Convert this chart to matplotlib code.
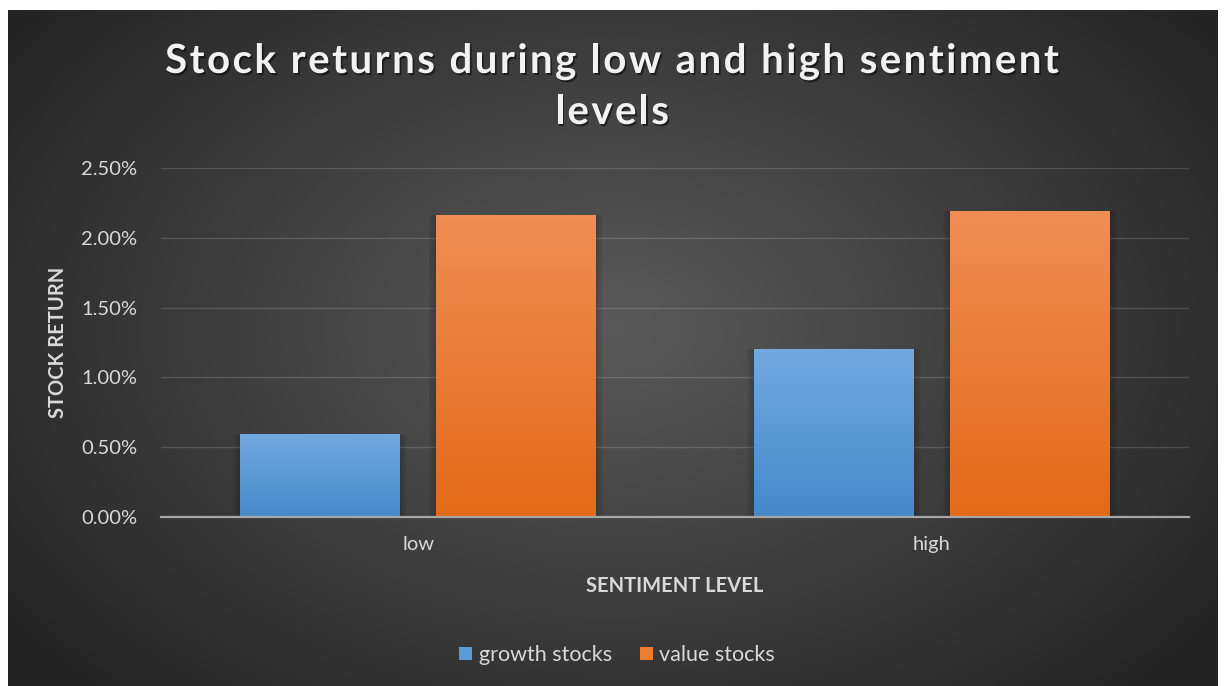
import numpy as np
import matplotlib.pyplot as plt
import matplotlib.patheffects as pe
from matplotlib.colors import to_rgb

# Datos del gráfico
niveles = ["low", "high"]
growth = [0.0059, 0.0120]
value = [0.0216, 0.0219]
series = ["growth stocks", "value stocks"]
yticks = [0.0, 0.005, 0.010, 0.015, 0.020, 0.025]

W, H = 1225, 686
plt.rcParams["font.family"] = ["Lato", "DejaVu Sans"]
fig = plt.figure(figsize=(W / 100, H / 100), dpi=100, facecolor="white")


def px(x, y):
    return x / W, 1 - y / H


# Fondo oscuro con degradado radial
bg = fig.add_axes([8 / W, 0, (1218 - 8) / W, (H - 10) / H], zorder=-10)
gy, gx = np.mgrid[0:1:300j, 0:1:540j]
d = np.sqrt(((gx - 0.5) / 0.62) ** 2 + ((gy - 0.47) / 0.75) ** 2)
d = np.clip(d, 0, 1)[..., None]
centro = np.array(to_rgb("#5a5a5a"))
borde = np.array(to_rgb("#242424"))
bg.imshow(centro * (1 - d) + borde * d, aspect="auto", extent=[0, 1, 0, 1])
bg.set_axis_off()

ax = fig.add_axes([161 / W, (H - 517) / H, 1028 / W, (517 - 168) / H])
ax.patch.set_alpha(0)

x = np.arange(len(niveles))
ancho = 0.311
barras_g = ax.bar(x - 0.19, growth, ancho, color="#5b9bd5", label=series[0], zorder=3)
barras_v = ax.bar(x + 0.19, value, ancho, color="#ed7d31", label=series[1], zorder=3)


# Relleno degradado vertical de cada barra
def degradado(barras, arriba, abajo):
    a, b = np.array(to_rgb(arriba)), np.array(to_rgb(abajo))
    t = np.linspace(0, 1, 100)[:, None, None]
    img = a * (1 - t) + b * t
    for p in barras:
        x0, w, h = p.get_x(), p.get_width(), p.get_height()
        # sombra suave a los lados
        for k in range(4):
            e = 0.0035 * (k + 1)
            ax.add_patch(plt.Rectangle((x0 - e, 0), w + 2 * e, h,
                                       color="black", alpha=0.045, lw=0, zorder=2))
        ax.imshow(img, extent=[x0, x0 + w, 0, h], aspect="auto", zorder=4)


degradado(barras_g, "#72a9df", "#4589cb")
degradado(barras_v, "#f08d55", "#e36a18")

ax.set_xlim(-0.5, 1.5)
ax.set_ylim(0, 0.025)
ax.set_yticks(yticks)
ax.set_yticklabels([f"{v * 100:.2f}%" for v in yticks])
ax.set_xticks(x)
ax.set_xticklabels(niveles)
ax.tick_params(length=0, labelsize=14.5, colors="#d9d9d9")
ax.tick_params(axis="y", pad=17)
ax.tick_params(axis="x", pad=14)
ax.grid(axis="y", color="white", alpha=0.14, lw=1, zorder=1)
for s in ["top", "right", "left"]:
    ax.spines[s].set_visible(False)
ax.spines["bottom"].set_color("#a6a6a6")
ax.spines["bottom"].set_linewidth(1.6)
ax.spines["bottom"].set_zorder(5)

ax.set_ylabel("STOCK RETURN", fontsize=14.5, fontweight="bold", color="#d9d9d9",
              va="center", ha="center")
ax.yaxis.set_label_coords((58 - 161) / 1028, 0.5)
ax.set_xlabel("SENTIMENT LEVEL", fontsize=14.5, fontweight="bold", color="#d9d9d9",
              va="center", ha="center")
ax.xaxis.set_label_coords(0.5, (517 - 586) / 349)

fig.legend(handles=[barras_g, barras_v], loc="center", bbox_to_anchor=px(617, 655),
           ncol=2, frameon=False, fontsize=15.5, labelcolor="#d9d9d9",
           handlelength=0.6, handleheight=0.6, handletextpad=0.3, columnspacing=1.3)

# Título con espaciado entre letras
renderer = fig.canvas.get_renderer()
estilo_titulo = dict(fontsize=29, fontweight="bold", color="#f2f2f2")
sombra = [pe.withSimplePatchShadow(offset=(1.2, -1.5), shadow_rgbFace="black", alpha=0.5)]


def ancho_px(s):
    t = fig.text(0, 0, s + "|", **estilo_titulo)
    t2 = fig.text(0, 0, "|", **estilo_titulo)
    w = t.get_window_extent(renderer).width - t2.get_window_extent(renderer).width
    t.remove()
    t2.remove()
    return w


def titulo_espaciado(s, cx, base, track):
    total = ancho_px(s) + track * (len(s) - 1)
    x0 = cx - total / 2
    for i, ch in enumerate(s):
        if ch == " ":
            continue
        xi = x0 + ancho_px(s[:i]) + track * i
        fig.text(*px(xi, base), ch, ha="left", va="baseline",
                 path_effects=sombra, **estilo_titulo)


titulo_espaciado("Stock returns during low and high sentiment", 612, 73, 2.4)
titulo_espaciado("levels", 612, 124, 2.4)

fig.savefig("out.png", dpi=100, facecolor="white")
